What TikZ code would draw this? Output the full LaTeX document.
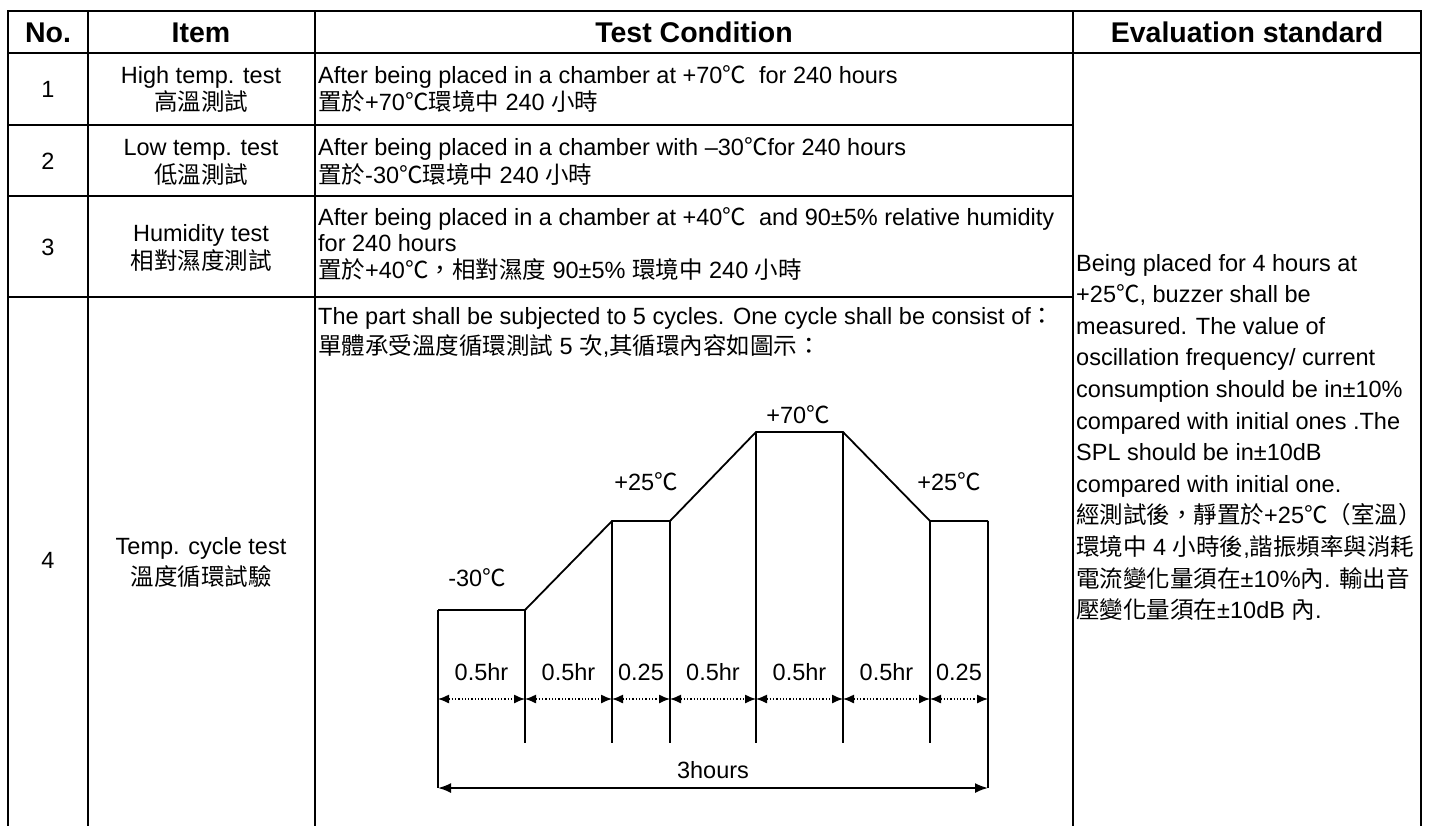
\documentclass[tikz,border=0pt]{standalone}
\usepackage{fontspec}
\setmainfont{Liberation Sans}
\newfontfamily\cjk{Noto Sans CJK TC}
\usetikzlibrary{arrows.meta}

\newcommand\zh[1]{{\cjk #1}}
\newcommand\dC{{\cjk ℃}}

\begin{document}
\begin{tikzpicture}[
      x = 1pt, y = -1pt,
      rule/.style = { line width = 2.3pt, line cap = rect },
      profile/.style = { line width = 1.8pt },
      head/.style = {
        inner sep = 0pt, anchor = base,
        font = \bfseries\fontsize{28.5}{32}\selectfont
      },
      txt/.style = {
        inner sep = 0pt, anchor = base,
        font = \fontsize{23.5}{28}\selectfont
      },
      cond/.style = { txt, anchor = base west },
      span/.style = {
        line width = 1.3pt, dotted,
        {Latex[length=11pt,width=9pt]}-{Latex[length=11pt,width=9pt]}
      },
      total/.style = {
        line width = 1.8pt,
        {Latex[length=13pt,width=10pt]}-{Latex[length=13pt,width=10pt]}
      },
    ]

    \useasboundingbox (0,0) rectangle (1431,825);

    % table rules
    \draw[rule] (8,11) -- (1421,11);
    \draw[rule] (8,53) -- (1421,53);
    \foreach \y in {125, 196, 297} {
      \draw[rule] (8,\y) -- (1073,\y);
    }
    \foreach \x in {8, 88, 315, 1073, 1421} {
      \draw[rule] (\x,11) -- (\x,830);
    }

    \node[head] (hNo)   at (48,42)   {No.};
    \node[head] (hItem) at (201,42)  {Item};
    \node[head] (hCond) at (694,42)  {Test Condition};
    \node[head] (hEval) at (1247,42) {Evaluation standard};

    % row 1
    \node[txt]  (n1)  at (48,97)   {1};
    \node[txt]  (i1a) at (201,83)  {High temp. test};
    \node[txt]  (i1b) at (201,110) {\zh{高溫測試}};
    \node[cond] (c1a) at (318,83)  {After being placed in a chamber at +70\dC\ \ for 240 hours};
    \node[cond] (c1b) at (318,110) {\zh{置於}+70\zh{℃環境中} 240 \zh{小時}};

    % row 2
    \node[txt]  (n2)  at (48,169)  {2};
    \node[txt]  (i2a) at (201,155) {Low temp. test};
    \node[txt]  (i2b) at (201,183) {\zh{低溫測試}};
    \node[cond] (c2a) at (318,155) {After being placed in a chamber with –30\dC{}for 240 hours};
    \node[cond] (c2b) at (318,183) {\zh{置於}-30\zh{℃環境中} 240 \zh{小時}};

    % row 3
    \node[txt]  (n3)  at (48,255)  {3};
    \node[txt]  (i3a) at (201,241) {Humidity test};
    \node[txt]  (i3b) at (201,269) {\zh{相對濕度測試}};
    \node[cond] (c3a) at (318,225) {After being placed in a chamber at +40\dC\ \ and 90±5\% relative humidity};
    \node[cond] (c3b) at (318,251) {for 240 hours};
    \node[cond] (c3c) at (318,278) {\zh{置於}+40\zh{℃，相對濕度} 90±5\% \zh{環境中} 240 \zh{小時}};

    % row 4
    \node[txt]  (n4)  at (48,568)  {4};
    \node[txt]  (i4a) at (201,554) {Temp. cycle test};
    \node[txt]  (i4b) at (201,585) {\zh{溫度循環試驗}};
    \node[cond] (c4a) at (318,324) {The part shall be subjected to 5 cycles. One cycle shall be consist of\zh{：}};
    \node[cond] (c4b) at (318,354) {\zh{單體承受溫度循環測試} 5 \zh{次},\zh{其循環內容如圖示：}};

    % evaluation standard
    \foreach \entry [count=\i from 0] in {
        {Being placed for 4 hours at},
        {+25\dC, buzzer shall be},
        {measured. The value of},
        {oscillation frequency/ current},
        {consumption should be in±10\%},
        {compared with initial ones .The},
        {SPL should be in±10dB},
        {compared with initial one.},
        {\zh{經測試後，靜置於}+25\zh{℃（室溫）}},
        {\zh{環境中} 4 \zh{小時後},\zh{諧振頻率與消耗}},
        {\zh{電流變化量須在}±10\%\zh{內}. \zh{輸出音}},
        {\zh{壓變化量須在}±10dB \zh{內}.}
      } {
      \node[cond] (e\i) at (1076,{271+31.6*\i}) {\entry};
    }

    % temperature cycle
    \draw[profile] (438,610) -- (525,610) -- (612,521) -- (670,521)
      -- (756,432) -- (843,432) -- (930,521) -- (988,521);
    \foreach \x/\y in {525/610, 612/521, 670/521, 756/432, 843/432, 930/521} {
      \draw[profile] (\x,\y) -- (\x,743);
    }
    \foreach \x/\y in {438/610, 988/521} {
      \draw[profile] (\x,\y) -- (\x,788);
    }

    \node[txt] (tLow)  at (477,586) {-30\dC};
    \node[txt] (tMidA) at (646,490) {+25\dC};
    \node[txt] (tHigh) at (798,423) {+70\dC};
    \node[txt] (tMidB) at (949,490) {+25\dC};

    \foreach \a/\b/\d [count=\i] in {438/525/0.5hr, 525/612/0.5hr, 612/670/0.25,
        670/756/0.5hr, 756/843/0.5hr, 843/930/0.5hr, 930/988/0.25} {
      \node[txt] (d\i) at ({(\a+\b)/2},680) {\d};
      \draw[span] (\a,699) -- (\b,699);
    }

    \node[txt] (sum) at (713,778) {3hours};
    \draw[total] (438,788) -- (988,788);
  \end{tikzpicture}
\end{document}
